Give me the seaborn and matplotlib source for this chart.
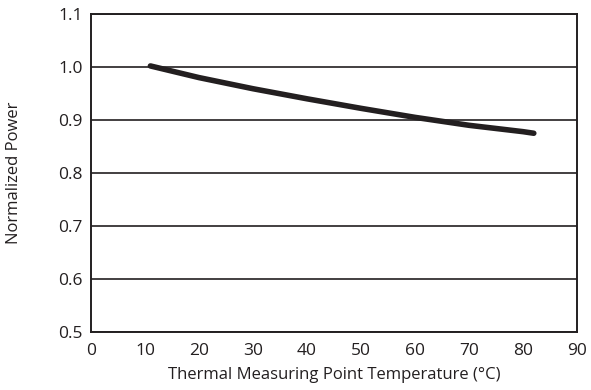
import matplotlib
matplotlib.use("Agg")
import matplotlib.pyplot as plt
import seaborn as sns
import pandas as pd

# values
temperature = [11, 20, 30, 40, 50, 60, 70, 80, 82]
power = [1.002, 0.980, 0.959, 0.940, 0.922, 0.905, 0.890, 0.878, 0.875]
x_ticks = [0, 10, 20, 30, 40, 50, 60, 70, 80, 90]
y_ticks = [0.5, 0.6, 0.7, 0.8, 0.9, 1.0, 1.1]

df = pd.DataFrame({"temp": temperature, "power": power})

sns.set_style("white")
plt.rcParams["font.family"] = ["Open Sans", "DejaVu Sans"]

fig = plt.figure(figsize=(5.91, 3.90), dpi=100)
ax = fig.add_axes([91 / 591, 58 / 390, 486 / 591, 318 / 390])

sns.lineplot(data=df, x="temp", y="power", ax=ax, color="#231f20",
             linewidth=4, solid_capstyle="round")

ax.set_xlim(0, 90)
ax.set_ylim(0.5, 1.1)
ax.set_xticks(x_ticks)
ax.set_yticks(y_ticks)
ax.set_yticklabels([f"{v:.1f}" for v in y_ticks])
ax.yaxis.grid(True, color="#231f20", linewidth=1.2)
ax.set_axisbelow(True)
ax.tick_params(axis="both", length=0, labelsize=12.5, colors="#231f20")
ax.tick_params(axis="x", pad=8)
ax.tick_params(axis="y", pad=6)
for s in ax.spines.values():
    s.set_color("#231f20")
    s.set_linewidth(1.4)

ax.set_xlabel("Thermal Measuring Point Temperature (°C)", fontsize=12,
              color="#231f20", labelpad=6)
ax.set_ylabel("Normalized Power", fontsize=12, color="#231f20", labelpad=26)

fig.savefig("out.png", dpi=100)
